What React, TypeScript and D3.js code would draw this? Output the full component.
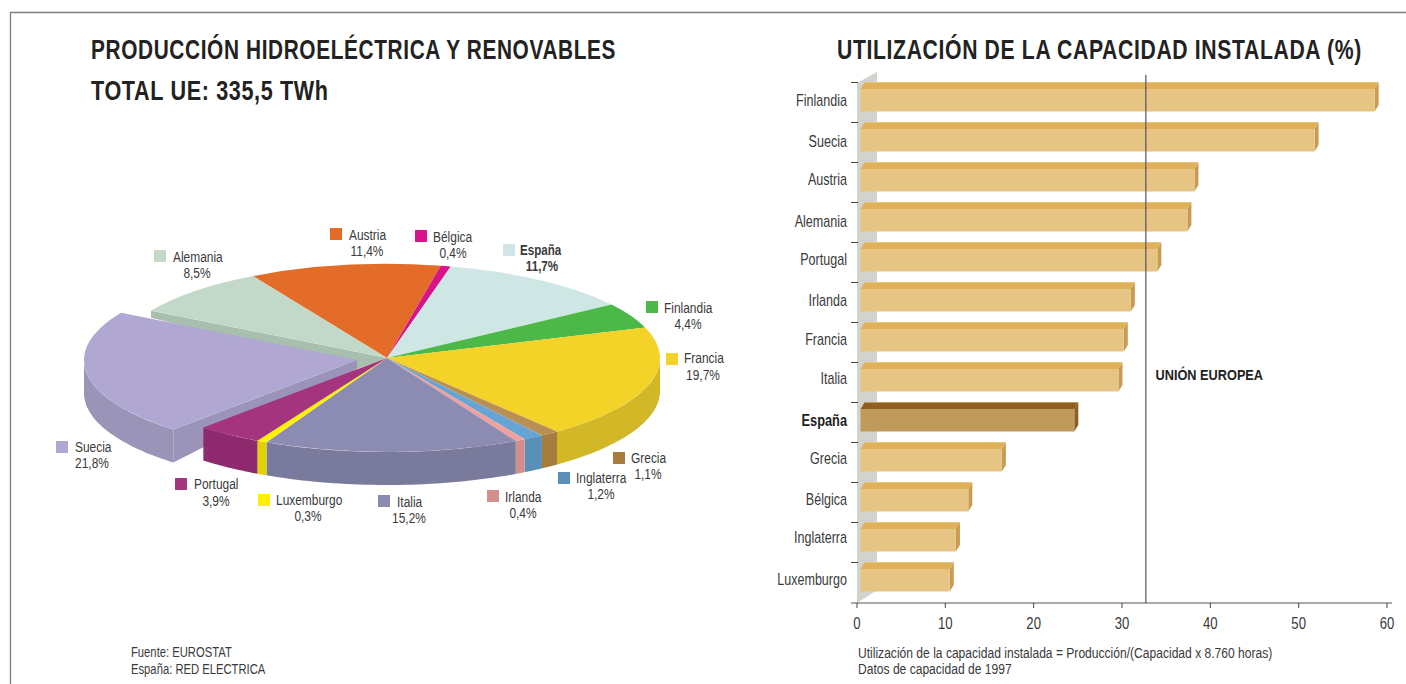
import React from "react";
import * as d3 from "d3";

const pieNames = ["Austria", "Bélgica", "España", "Finlandia", "Francia", "Grecia", "Inglaterra", "Irlanda", "Italia", "Luxemburgo", "Portugal", "Suecia", "Alemania"];
const pieValues = [11.4, 0.4, 11.7, 4.4, 19.7, 1.1, 1.2, 0.4, 15.2, 0.3, 3.9, 21.8, 8.5];
const pieLabels = ["11,4%", "0,4%", "11,7%", "4,4%", "19,7%", "1,1%", "1,2%", "0,4%", "15,2%", "0,3%", "3,9%", "21,8%", "8,5%"];
const topColors = ["#e36d28", "#d9138a", "#cfe7e4", "#4cb848", "#f3d327", "#b98f55", "#66a5d3", "#f0a09e", "#8c8cb2", "#fff200", "#a5347f", "#b0a8d2", "#c2d8c8"];
const wallColors = ["#c05c20", "#b01070", "#b0c8c5", "#3f9a3c", "#d2b727", "#a67c3f", "#5a90b8", "#d38e8c", "#7a7a9c", "#e0d200", "#8f2a6e", "#9a95b8", "#a8bfae"];
const swatchColors = ["#e36d28", "#d9138a", "#cfe7e4", "#4cb848", "#f3d327", "#a67c3f", "#5a90b8", "#d38e8c", "#8c8cb2", "#fff200", "#a5347f", "#b0a8d2", "#c2d8c8"];
const swatchX = [330, 415, 503, 646, 666, 613, 558, 487, 378, 258, 175, 56, 154];
const swatchY = [228, 230, 244, 301, 353, 452, 472, 490, 495, 494, 478, 441, 250];
const nameX = [349, 433, 520, 664, 684, 631, 576, 505, 397, 276, 194, 75, 173];
const nameY = [240, 242, 255, 313, 363, 463, 483, 502, 507, 505, 489, 452, 262];
const pctX = [367, 453, 542, 688, 703, 648, 601, 523, 409, 308, 216, 92, 197];
const pctY = [256, 258, 271, 329, 380, 479, 499, 518, 523, 521, 506, 468, 278];

const barNames = ["Finlandia", "Suecia", "Austria", "Alemania", "Portugal", "Irlanda", "Francia", "Italia", "España", "Grecia", "Bélgica", "Inglaterra", "Luxemburgo"];
const barValues = [58.6, 51.8, 38.2, 37.4, 34.0, 31.0, 30.2, 29.6, 24.6, 16.4, 12.6, 11.2, 10.5];
const barLabelY = [105.5, 146.5, 185, 226.5, 264.5, 305.5, 344.5, 383.5, 425.5, 463.5, 504.5, 542.5, 584.5];
const xTicks = [0, 10, 20, 30, 40, 50, 60];
const euValue = 32.7;

const SANS = "'Liberation Sans',Arial,sans-serif";
const TXT = "#3a3a3a";

function T({ x, y, sx, anchor, children, ...rest }: any) {
  return (
    <text transform={`translate(${x},${y}) scale(${sx},1)`} textAnchor={anchor ?? "start"} {...rest}>
      {children}
    </text>
  );
}

export default function App() {
  const cx = 387, cy = 358, rx = 273, ry = 94, depth = 33;
  const startAngle = (-29.4 * Math.PI) / 180;
  // the picture widens the thinnest slices so that they stay visible
  const arcs = d3.pie<number>().sort(null).value((d) => Math.max(d, 0.6)).startAngle(startAngle).endAngle(startAngle + 2 * Math.PI)(pieValues);
  const topArc = d3.arc<d3.PieArcDatum<number>>().innerRadius(0).outerRadius(rx);
  const yScale = ry / rx;
  const pt = (a: number, dx = 0, dy = 0): [number, number] => [cx + dx + rx * Math.sin(a), cy + dy - ry * Math.cos(a)];
  const line = d3.line();
  const outerWall = (a0: number, a1: number, dx = 0, dy = 0) => {
    const lo = Math.max(a0, Math.PI / 2), hi = Math.min(a1, (3 * Math.PI) / 2);
    if (hi <= lo) return null;
    const angs = d3.range(0, 41).map((i) => lo + ((hi - lo) * i) / 40);
    const up = angs.map((a) => pt(a, dx, dy));
    const down = angs.slice().reverse().map((a) => pt(a, dx, dy + depth));
    return line([...up, ...down]) + "Z";
  };
  const sweden = 11, alemania = 12;
  const sw = arcs[sweden];
  const al = arcs[alemania];
  const offX = -30, offY = 2;
  const alEdge = pt(al.startAngle);
  const alWall = line([alEdge, [cx, cy], [cx + offX, cy + offY + 9], [alEdge[0], alEdge[1] + 7]]) + "Z";
  const swTip = pt(sw.startAngle, offX, offY);
  const swInner = line([[cx + offX, cy + offY], swTip, [swTip[0], swTip[1] + depth], [cx + offX, cy + offY + 9]]) + "Z";

  const x = d3.scaleLinear().domain([0, 60]).range([857, 1387]);
  const y = d3.scaleBand<string>().domain(barNames).range([82.5, 602.5]);
  const barLeft = 860.5;
  const tx = 4, ty = 6.5, h = 22.5;

  return (
    <svg width={1406} height={684} style={{ position: "absolute", left: 0, top: 0, background: "#fff" }}>
      <path d="M10.5,684V12.5H1406" fill="none" stroke="#7d7d7d" strokeWidth={1.3} />
      <g fontFamily={SANS} fontWeight={700} fontSize={27} fill="#222" letterSpacing={0.8}>
        <T x={91} y={59} sx={0.772}>PRODUCCIÓN HIDROELÉCTRICA Y RENOVABLES</T>
        <T x={91} y={100} sx={0.8}>TOTAL UE: 335,5 TWh</T>
        <T x={837} y={59} sx={0.785}>UTILIZACIÓN DE LA CAPACIDAD INSTALADA (%)</T>
      </g>

      {/* 3D pie */}
      <path d={alWall} fill={wallColors[alemania]} />
      <path d={outerWall(sw.startAngle, sw.endAngle, offX, offY) ?? ""} fill={wallColors[sweden]} />
      <path d={swInner} fill={wallColors[sweden]} />
      <g transform={`translate(${cx + offX},${cy + offY}) scale(1,${yScale})`}>
        <path d={topArc(sw) ?? ""} fill={topColors[sweden]} />
      </g>
      {arcs.map((a, i) => {
        if (i === sweden) return null;
        const w = outerWall(a.startAngle, a.endAngle);
        return w ? <path key={i} d={w} fill={wallColors[i]} /> : null;
      })}
      <g transform={`translate(${cx},${cy}) scale(1,${yScale})`}>
        {arcs.map((a, i) => (i === sweden ? null : <path key={i} d={topArc(a) ?? ""} fill={topColors[i]} />))}
      </g>

      {/* pie legend */}
      <g fontFamily={SANS} fontSize={15.5} fill={TXT}>
        {pieNames.map((n, i) => (
          <g key={n} fontWeight={n === "España" ? 700 : 400}>
            <rect x={swatchX[i]} y={swatchY[i]} width={12} height={12} fill={swatchColors[i]} />
            <T x={nameX[i]} y={nameY[i]} sx={n === "España" ? 0.75 : 0.77}>{n}</T>
            <T x={pctX[i]} y={pctY[i]} sx={n === "España" ? 0.75 : 0.77} anchor="middle">{pieLabels[i]}</T>
          </g>
        ))}
      </g>

      <g fontFamily={SANS} fontSize={15} fill={TXT}>
        <T x={131} y={657} sx={0.75}>Fuente: EUROSTAT</T>
        <T x={131} y={673.5} sx={0.75}>España: RED ELECTRICA</T>
        <T x={858} y={657.5} sx={0.805}>Utilización de la capacidad instalada = Producción/(Capacidad x 8.760 horas)</T>
        <T x={858} y={674} sx={0.805}>Datos de capacidad de 1997</T>
      </g>

      {/* bar chart */}
      <path d={line([[857, 83], [877, 72], [877, 590], [857, 603]]) + "Z"} fill="#d2d3cd" />
      {barNames.map((n, i) => {
        const top0 = y(n)!;
        const y0 = top0 + ty;
        const x1 = x(barValues[i]);
        const es = n === "España";
        const front = es ? "#c09a5a" : "#e6c584";
        const top = es ? "#8f5f22" : "#dfb25a";
        const side = es ? "#8f5f22" : "#c99a50";
        return (
          <g key={n}>
            <path d={line([[barLeft, y0], [barLeft + tx, top0], [x1 + tx, top0], [x1, y0]]) + "Z"} fill={top} />
            <line x1={barLeft + tx} x2={x1 + tx} y1={top0} y2={top0} stroke={front} strokeWidth={1} />
            <path d={line([[x1, y0], [x1 + tx, top0], [x1 + tx, top0 + h], [x1, y0 + h]]) + "Z"} fill={side} />
            <rect x={barLeft} y={y0} width={x1 - barLeft} height={h} fill={front} />
            <line x1={851} x2={858} y1={top0} y2={top0} stroke="#444" />
            <T x={847} y={barLabelY[i]} sx={es ? 0.8 : 0.785} anchor="end" fontFamily={SANS} fontSize={16} fontWeight={es ? 700 : 400} fill={es ? "#222" : TXT}>{n}</T>
          </g>
        );
      })}
      <line x1={x(euValue)} x2={x(euValue)} y1={75} y2={603} stroke="#555" strokeWidth={1.2} />
      <line x1={851} x2={1392} y1={603} y2={603} stroke="#555" strokeWidth={1.2} />
      {xTicks.map((t) => (
        <g key={t}>
          <line x1={x(t)} x2={x(t)} y1={603} y2={608} stroke="#444" />
          <T x={x(t)} y={628.5} sx={0.82} anchor="middle" fontFamily={SANS} fontSize={16} fill={TXT}>{t}</T>
        </g>
      ))}
      <T x={1155.5} y={380} sx={0.85} fontFamily={SANS} fontWeight={700} fontSize={15} fill="#222">UNIÓN EUROPEA</T>
    </svg>
  );
}
